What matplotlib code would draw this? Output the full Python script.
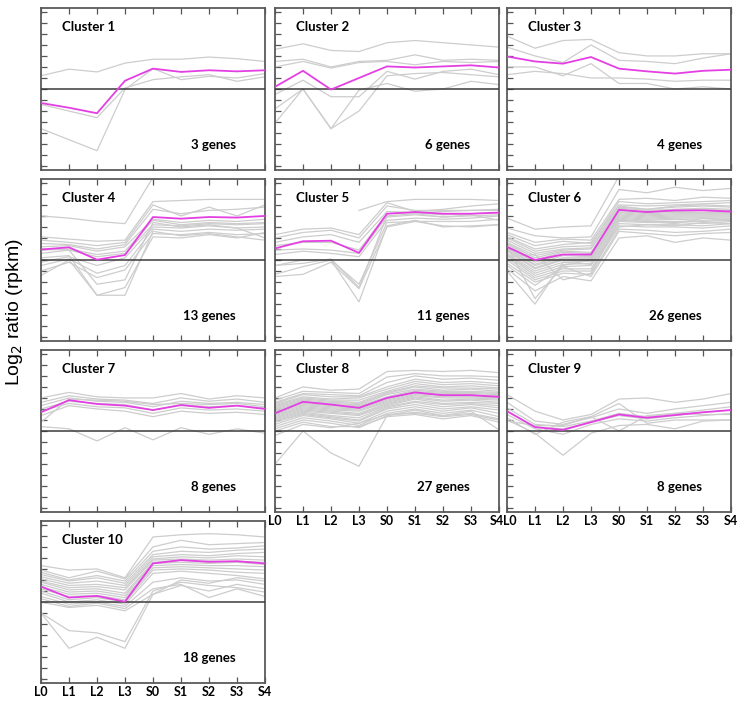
import numpy as np
import matplotlib
matplotlib.use('Agg')
import matplotlib.pyplot as plt
import matplotlib.transforms as mtransforms

plt.rcParams['font.family'] = ['Lato', 'DejaVu Sans']

timepoints = ['L0', 'L1', 'L2', 'L3', 'S0', 'S1', 'S2', 'S3', 'S4']
nan = np.nan

# gray gene profiles per cluster (log2 ratio)
c1 = [
    [1.2, 1.8, 1.55, 2.35, 2.7, 2.7, 2.9, 2.75, 2.5],
    [-1.4, -2.0, -2.6, 0.1, 0.85, 1.1, 1.3, 0.7, 1.1],
    [-3.6, -4.6, -5.6, -0.05, 1.85, 0.85, 1.15, 1.0, 1.4],
]
c2 = [
    [3.6, 4.1, 3.5, 3.4, 4.2, 4.4, 4.2, 4.0, 3.8],
    [2.5, 2.7, 2.0, 2.5, 2.6, 3.1, 2.6, 2.7, 2.6],
    [2.0, 2.5, 1.9, 2.4, 2.5, 2.2, 2.5, 2.4, 2.5],
    [-0.5, 0.8, -0.7, -0.7, 1.6, 0.9, 1.6, 1.8, 1.3],
    [-1.8, 0.0, -3.6, -2.0, 1.2, 1.4, 1.5, 1.3, 1.1],
    [-3.1, 0.0, -3.6, -0.1, 0.5, -0.2, 0.0, 0.7, 0.4],
]
c3 = [
    [4.8, 3.7, 4.4, 4.5, 3.3, 3.0, 3.0, 3.2, 3.2],
    [3.8, 3.0, 2.4, 4.0, 2.6, 2.5, 2.3, 2.8, 3.2],
    [2.0, 2.0, 1.2, 2.3, 0.5, 0.5, 0.0, 0.2, 0.0],
    [1.3, 1.6, 1.4, 1.0, 1.0, 0.9, 0.7, 0.8, 0.8],
]
c4 = [
    [4.0, 3.8, 3.5, 3.3, 7.5, 7.6, 7.7, 7.6, 7.5],
    [2.1, 1.9, 1.7, 1.8, 5.3, 5.4, 5.5, 5.5, 5.5],
    [1.8, 1.6, 1.3, 1.6, 5.0, 4.0, 4.8, 4.0, 5.0],
    [1.5, 1.4, 1.0, 1.4, 4.6, 4.2, 4.5, 4.6, 4.8],
    [1.2, 1.3, 0.8, 1.2, 3.7, 3.4, 3.6, 3.5, 3.7],
    [0.9, 1.0, 0.5, 0.8, 3.6, 3.2, 3.4, 3.3, 3.4],
    [0.6, 0.9, 0.3, 0.6, 3.2, 3.1, 3.3, 3.2, 3.3],
    [-0.2, 0.3, -0.5, 0.2, 3.0, 2.9, 3.1, 2.9, 3.0],
    [-0.5, 0.1, -1.2, -0.5, 2.8, 2.6, 2.8, 2.7, 2.8],
    [-1.0, -0.2, -1.6, -0.9, 2.4, 2.3, 2.5, 2.3, 2.4],
    [-1.4, 0.0, -3.2, -2.5, 2.1, 2.0, 2.3, 2.0, 2.5],
    [0.2, 0.4, -3.2, -3.2, 2.6, 2.2, 2.4, 2.1, 1.8],
    [1.0, 0.9, -2.2, -1.8, 3.4, 3.0, 3.2, 2.9, 2.0],
]
c5 = [
    [nan, nan, nan, 4.5, 5.3, 5.5, 5.5, 5.5, 5.4],
    [2.3, 2.8, 2.9, 2.3, 5.2, 4.4, 4.6, 4.9, 5.1],
    [2.0, 2.5, 2.7, 2.0, 4.9, 4.5, 4.5, 4.5, 4.6],
    [1.6, 2.1, 2.3, 1.6, 4.4, 4.3, 4.4, 4.5, 4.5],
    [1.3, 1.6, 1.6, 0.9, 4.2, 4.3, 4.1, 4.2, 4.3],
    [0.9, 1.0, 0.9, 0.6, 3.9, 4.1, 3.9, 4.0, 4.1],
    [0.5, 0.8, 0.6, 0.3, 3.6, 3.8, 3.7, 3.8, 4.0],
    [-0.5, 0.0, 0.0, -2.2, 3.4, 3.5, 3.5, 3.5, 3.7],
    [-1.5, -1.3, -0.2, -2.6, 3.0, 3.5, 3.1, 3.0, 3.2],
    [-1.3, -0.6, 0.0, -3.8, 3.1, 3.6, 3.0, 3.1, 3.2],
    [-0.5, -0.3, 0.1, -2.5, 4.0, 4.2, 3.9, 4.1, 3.6],
]
c6 = [
    [3.8, 2.8, 3.0, 3.1, 7.6, 7.6, 7.5, 7.6, 7.4],
    [2.9, 2.2, 2.0, 2.1, 6.4, 6.1, 6.6, 6.3, 6.5],
    [2.5, 1.6, 1.9, 1.8, 5.5, 5.6, 5.4, 5.7, 5.6],
    [2.3, 1.3, 1.7, 1.5, 5.3, 5.1, 5.2, 5.3, 5.4],
    [2.1, 1.0, 1.4, 1.6, 5.0, 4.9, 5.0, 5.1, 5.2],
    [2.0, 0.8, 1.2, 1.3, 4.9, 4.6, 4.8, 4.9, 4.8],
    [1.8, 0.6, 1.0, 1.1, 4.7, 4.5, 4.6, 4.7, 4.6],
    [1.6, 0.4, 0.9, 1.0, 4.6, 4.4, 4.5, 4.6, 4.5],
    [1.5, 0.2, 0.8, 0.7, 4.5, 4.3, 4.4, 4.5, 4.4],
    [1.4, 0.0, 0.7, 0.6, 4.4, 4.2, 4.3, 4.3, 4.3],
    [1.2, -0.2, 0.5, 0.4, 4.3, 4.1, 4.2, 4.2, 4.2],
    [1.1, -0.4, 0.4, 0.3, 4.2, 4.0, 4.1, 4.1, 4.1],
    [1.0, -0.5, 0.2, 0.2, 4.1, 3.9, 4.0, 4.0, 4.0],
    [0.9, -0.7, 0.1, 0.1, 4.0, 3.8, 3.9, 3.9, 3.9],
    [0.8, -0.8, 0.0, 0.0, 3.9, 3.7, 3.8, 3.8, 3.8],
    [0.6, -1.0, -0.2, -0.1, 3.8, 3.6, 3.7, 3.6, 3.7],
    [0.5, -1.2, -0.4, -0.3, 3.6, 3.5, 3.5, 3.5, 3.6],
    [0.4, -1.4, -0.6, -0.5, 3.5, 3.4, 3.4, 3.3, 3.5],
    [0.2, -1.6, -0.8, -0.8, 3.3, 3.2, 3.2, 3.1, 3.3],
    [0.0, -1.8, -1.0, -1.0, 3.1, 3.0, 3.0, 2.9, 3.1],
    [-0.3, -2.0, -1.2, -1.3, 2.8, 2.7, 2.5, 2.6, 2.8],
    [-0.5, -2.3, -0.6, -1.5, 2.6, 2.4, 2.2, 2.4, 2.5],
    [-0.8, -2.8, -1.5, -1.9, 2.0, 2.2, 1.6, 2.0, 1.8],
    [-1.0, -4.0, -0.2, -0.4, 3.0, 3.2, 3.1, 3.4, 3.3],
    [1.3, -3.5, -0.5, 0.0, 4.8, 4.6, 4.9, 5.0, 4.9],
    [0.3, 0.5, -1.8, -1.2, 3.7, 3.5, 3.3, 3.8, 3.6],
]
c7 = [
    [3.0, 3.5, 3.1, 3.0, 3.0, 3.4, 2.9, 3.2, 3.0],
    [2.6, 3.2, 2.9, 2.8, 2.5, 3.0, 2.7, 2.9, 2.6],
    [2.3, 3.0, 2.7, 2.6, 2.2, 2.7, 2.5, 2.6, 2.4],
    [2.0, 2.7, 2.5, 2.4, 1.9, 2.4, 2.2, 2.3, 2.1],
    [1.8, 2.5, 2.2, 2.1, 1.6, 2.1, 1.9, 2.0, 1.8],
    [1.4, 2.3, 2.0, 1.8, 1.3, 1.8, 1.6, 1.7, 1.5],
    [0.8, 2.9, 2.8, 2.7, 2.4, 2.5, 2.4, 2.5, 2.2],
    [0.4, 0.2, -0.9, 0.3, -0.8, 0.3, -0.3, 0.2, -0.2],
]
c8 = [
    [-3.0, 0.0, -2.0, -3.2, 1.4, 1.9, 1.4, 1.8, 0.1],
    [3.0, 4.0, 3.7, 3.8, 5.4, 5.5, 5.4, 5.5, 5.3],
    [2.8, 3.6, 3.5, 3.4, 4.9, 5.2, 5.0, 5.0, 4.9],
    [2.6, 3.4, 3.3, 3.2, 4.4, 5.0, 4.7, 4.8, 4.6],
    [2.5, 3.3, 3.1, 3.1, 4.0, 4.7, 4.4, 4.5, 4.3],
    [2.4, 3.1, 2.9, 3.0, 3.8, 4.5, 4.2, 4.3, 4.1],
    [2.3, 3.0, 2.8, 2.8, 3.6, 4.3, 4.0, 4.1, 3.9],
    [2.2, 2.9, 2.7, 2.6, 3.5, 4.1, 3.9, 3.9, 3.8],
    [2.1, 2.8, 2.6, 2.5, 3.4, 4.0, 3.7, 3.8, 3.6],
    [2.0, 2.7, 2.5, 2.4, 3.3, 3.8, 3.6, 3.6, 3.5],
    [1.9, 2.6, 2.4, 2.3, 3.1, 3.7, 3.5, 3.5, 3.4],
    [1.8, 2.5, 2.3, 2.2, 3.0, 3.6, 3.4, 3.4, 3.3],
    [1.7, 2.4, 2.2, 2.1, 2.9, 3.5, 3.3, 3.3, 3.2],
    [1.6, 2.3, 2.1, 2.0, 2.8, 3.4, 3.2, 3.2, 3.1],
    [1.5, 2.2, 2.0, 1.9, 2.7, 3.3, 3.1, 3.1, 3.0],
    [1.4, 2.1, 1.9, 1.8, 2.6, 3.2, 3.0, 3.0, 2.9],
    [1.3, 2.0, 1.8, 1.6, 2.5, 3.1, 2.8, 2.9, 2.8],
    [1.2, 1.9, 1.7, 1.5, 2.4, 3.0, 2.7, 2.8, 2.6],
    [1.1, 1.8, 1.6, 1.4, 2.3, 2.9, 2.5, 2.6, 2.5],
    [1.0, 1.7, 1.4, 1.2, 2.2, 2.7, 2.4, 2.5, 2.3],
    [0.9, 1.6, 1.3, 1.0, 2.1, 2.6, 2.2, 2.4, 2.1],
    [0.8, 1.5, 1.2, 0.9, 2.0, 2.4, 2.0, 2.2, 1.9],
    [0.6, 1.4, 1.1, 0.7, 1.8, 2.2, 1.8, 2.1, 1.6],
    [0.4, 1.2, 0.9, 0.5, 1.6, 2.0, 1.6, 1.9, 1.3],
    [0.2, 1.0, 0.7, 0.3, 1.4, 1.7, 1.4, 1.6, 1.1],
    [0.0, 0.8, 0.4, 0.4, 1.3, 1.5, 1.1, 1.4, 0.8],
    [-0.4, 0.6, 0.3, 0.7, 1.5, 1.6, 1.3, 1.5, 1.0],
]
c9 = [
    [3.3, 1.8, 1.0, 1.5, 2.9, 3.0, 2.6, 2.9, 3.4],
    [2.6, 0.9, 0.6, 1.2, 2.0, 1.6, 2.0, 2.3, 2.6],
    [2.1, 0.6, 0.4, 0.9, 1.6, 1.3, 1.6, 1.9, 2.2],
    [1.8, 0.4, 0.2, 0.8, 1.4, 1.1, 1.4, 1.7, 1.9],
    [1.5, 0.2, -0.3, 0.6, 1.1, 0.9, 1.2, 1.4, 1.6],
    [1.0, -0.2, -2.2, -0.2, 0.5, 0.6, 0.2, 0.9, 1.0],
    [1.2, -0.3, 0.8, 1.3, 0.0, 1.4, 1.6, 1.5, 1.5],
    [0.9, 0.5, 0.5, 1.3, 2.5, 0.7, 1.0, 1.0, 1.0],
]
c10 = [
    [3.3, 2.9, 3.0, 2.2, 5.9, 6.1, 6.2, 6.1, 5.9],
    [2.9, 2.2, 2.8, 2.1, 5.0, 5.6, 5.2, 5.3, 5.4],
    [2.7, 2.0, 2.4, 1.9, 4.6, 5.0, 4.8, 4.9, 5.1],
    [2.5, 1.9, 2.2, 1.7, 4.3, 4.6, 4.5, 4.7, 4.8],
    [2.3, 1.7, 1.9, 1.5, 4.1, 4.3, 4.2, 4.4, 4.5],
    [2.1, 1.5, 1.6, 1.3, 3.9, 4.1, 4.0, 4.2, 4.1],
    [1.9, 1.3, 1.4, 1.1, 3.8, 3.9, 3.8, 3.9, 3.8],
    [1.8, 1.1, 1.2, 0.8, 3.6, 3.8, 3.6, 3.7, 3.6],
    [1.6, 0.9, 1.0, 0.6, 3.5, 3.6, 3.5, 3.6, 3.4],
    [1.4, 0.7, 0.8, 0.4, 3.3, 3.4, 3.3, 3.3, 3.2],
    [1.2, 0.5, 0.6, 0.2, 3.1, 3.2, 3.1, 3.0, 2.9],
    [1.0, 0.2, 0.4, 0.0, 2.9, 3.0, 2.9, 2.7, 2.6],
    [0.8, 0.0, 0.2, -0.2, 2.6, 2.8, 2.6, 2.4, 2.1],
    [0.5, -0.2, 0.0, -0.4, 1.8, 2.2, 1.9, 2.0, 1.6],
    [0.3, -0.4, -0.1, -0.6, 1.2, 1.6, 0.4, 1.2, 0.5],
    [0.0, -0.5, -0.3, -0.8, 0.7, 1.5, 1.0, 1.6, 1.2],
    [-1.0, -2.6, -2.8, -3.6, 1.0, 1.8, 1.5, 1.3, 0.9],
    [-1.0, -4.2, -3.2, -4.2, 0.7, 2.0, 1.7, 2.2, 1.9],
]

# magenta cluster centroid
centroids = [
    [-1.27, -1.7, -2.2, 0.75, 1.85, 1.55, 1.7, 1.6, 1.7],
    [0.2, 1.65, -0.05, 1.0, 2.05, 1.95, 2.05, 2.15, 1.95],
    [2.95, 2.5, 2.3, 2.9, 1.85, 1.6, 1.4, 1.65, 1.75],
    [0.95, 1.15, 0.03, 0.45, 3.9, 3.75, 3.9, 3.85, 4.0],
    [1.05, 1.7, 1.75, 0.65, 4.2, 4.35, 4.2, 4.2, 4.3],
    [1.2, 0.0, 0.5, 0.5, 4.55, 4.35, 4.5, 4.5, 4.4],
    [1.7, 2.8, 2.45, 2.3, 1.9, 2.35, 2.1, 2.3, 2.0],
    [1.6, 2.65, 2.4, 2.1, 3.0, 3.5, 3.25, 3.25, 3.1],
    [1.8, 0.35, 0.1, 0.8, 1.5, 1.2, 1.45, 1.7, 1.9],
    [1.4, 0.4, 0.55, 0.03, 3.5, 3.8, 3.65, 3.7, 3.5],
]
clusters = [c1, c2, c3, c4, c5, c6, c7, c8, c9, c10]
gene_counts = [3, 6, 4, 13, 11, 26, 8, 27, 8, 18]

W, H = 744, 702
fig = plt.figure(figsize=(W / 100, H / 100), dpi=100)

col_left = [41, 275, 507]
row_top = [8, 179, 350, 521]
pw, ph = 224, 162
x = np.arange(len(timepoints))

for i, genes in enumerate(clusters):
    r, c = divmod(i, 3)
    ax = fig.add_axes([col_left[c] / W, 1 - (row_top[r] + ph) / H, pw / W, ph / H])
    for g in genes:
        ax.plot(x, g, color='#cdcdcd', lw=0.9, zorder=2)
    ax.axhline(0, color='#3a3a3a', lw=1.1, zorder=3)
    ax.plot(x, centroids[i], color='#e33fe3', lw=1.3, zorder=4)
    ax.set_xlim(0, 8)
    ax.set_ylim(-7.35, 7.35)
    ax.set_yticks(np.arange(-7, 8))
    ax.set_xticks(x)
    ax.tick_params(axis='y', direction='in', length=4, width=0.9, color='#555555',
                   labelleft=False, left=True, right=False)
    ax.tick_params(axis='x', direction='in', length=4, width=0.9, color='#555555',
                   top=True, bottom=True, pad=2)
    for s in ax.spines.values():
        s.set_color('#5a5a5a')
        s.set_linewidth(1.3)
    if i in (7, 8, 9):
        labels = ax.set_xticklabels(timepoints, fontsize=9, fontweight='bold')
        # nudge the touching edge labels of neighbouring panels apart
        if i == 7:
            labels[-1].set_transform(labels[-1].get_transform() +
                                     mtransforms.ScaledTranslation(-2.5 / 100, 0, fig.dpi_scale_trans))
        if i == 8:
            labels[0].set_transform(labels[0].get_transform() +
                                    mtransforms.ScaledTranslation(2.5 / 100, 0, fig.dpi_scale_trans))
    else:
        ax.set_xticklabels([])
    ax.text(0.094, 0.88, f'Cluster {i + 1}', transform=ax.transAxes, fontsize=9.5,
            fontweight='bold', va='center', ha='left')
    ax.text(0.87, 0.155, f'{gene_counts[i]} genes', transform=ax.transAxes,
            fontsize=9.5, fontweight='bold', va='center', ha='right')

fig.text(15 / W, 1 - 312 / H, 'Log$_2$ ratio (rpkm)', rotation=90, fontsize=14,
         family=['Liberation Sans', 'DejaVu Sans'], va='center', ha='center')

fig.savefig('out.png', dpi=100)
